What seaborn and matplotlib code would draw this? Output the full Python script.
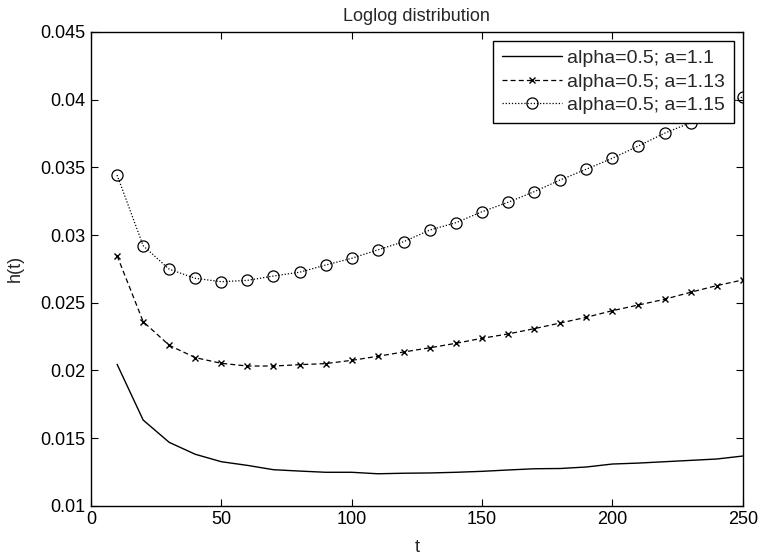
import numpy as np
import pandas as pd
import matplotlib
matplotlib.use("Agg")
import matplotlib.pyplot as plt
import seaborn as sns

t = [10, 20, 30, 40, 50, 60, 70, 80, 90, 100, 110, 120, 130, 140, 150, 160, 170, 180, 190, 200, 210, 220, 230, 240, 250]

h_a110 = [0.02045, 0.01633, 0.01468, 0.01380, 0.01325, 0.01298, 0.01266, 0.01256, 0.01247, 0.01247, 0.01236,
          0.01240, 0.01242, 0.01247, 0.01254, 0.01264, 0.01273, 0.01275, 0.01286, 0.01308, 0.01315, 0.01325,
          0.01335, 0.01345, 0.01367]
h_a113 = [0.02847, 0.02360, 0.02185, 0.02094, 0.02052, 0.02032, 0.02032, 0.02042, 0.02050, 0.02074, 0.02104,
          0.02136, 0.02167, 0.02200, 0.02237, 0.02269, 0.02308, 0.02350, 0.02392, 0.02441, 0.02483, 0.02525,
          0.02577, 0.02626, 0.02668]
h_a115 = [0.03443, 0.02921, 0.02747, 0.02680, 0.02655, 0.02665, 0.02697, 0.02725, 0.02778, 0.02828, 0.02890,
          0.02951, 0.03037, 0.03091, 0.03172, 0.03242, 0.03320, 0.03407, 0.03486, 0.03567, 0.03658, 0.03752,
          0.03830, 0.03920, 0.04022]

labels = ["alpha=0.5; a=1.1", "alpha=0.5; a=1.13", "alpha=0.5; a=1.15"]
title = "Loglog distribution"
xticks = [0, 50, 100, 150, 200, 250]
yticks = [0.01, 0.015, 0.02, 0.025, 0.03, 0.035, 0.04, 0.045]
ytick_labels = ["0.01", "0.015", "0.02", "0.025", "0.03", "0.035", "0.04", "0.045"]

sns.set_style("white")
plt.rcParams["font.family"] = ["Liberation Sans", "DejaVu Sans"]

fig = plt.figure(figsize=(7.61, 5.58), dpi=100)
ax = fig.add_axes([0.1196, 0.0937, 0.976 - 0.1196, 0.9427 - 0.0937])

sns.lineplot(x=t, y=h_a110, ax=ax, color="black", linestyle="-", linewidth=1.0, label=labels[0])
sns.lineplot(x=t, y=h_a113, ax=ax, color="black", linestyle=(0, (4, 2.5)), linewidth=0.9,
             marker="x", markersize=5, markeredgewidth=1.0, markeredgecolor="black", label=labels[1])
sns.lineplot(x=t, y=h_a115, ax=ax, color="black", linestyle=(0, (1, 1.5)), linewidth=0.9,
             marker="o", markersize=8, markerfacecolor="none", markeredgecolor="black",
             markeredgewidth=0.9, label=labels[2])

ax.set_xlim(0, 250)
ax.set_ylim(0.01, 0.045)
ax.set_xticks(xticks)
ax.set_xticklabels([str(v) for v in xticks])
ax.set_yticks(yticks)
ax.set_yticklabels(ytick_labels)
ax.tick_params(direction="in", length=5, width=0.8, labelsize=13, colors="black",
               top=True, right=True, bottom=True, left=True, pad=4)
for s in ax.spines.values():
    s.set_visible(True)
    s.set_color("black")
    s.set_linewidth(1.0)

ax.set_xlabel("t", fontsize=13, labelpad=8)
ax.set_ylabel("h(t)", fontsize=13, labelpad=12)
ax.set_title(title, fontsize=13, pad=8)

leg = ax.legend(loc="upper right", fontsize=14, frameon=True, fancybox=False, framealpha=1,
                edgecolor="black", handlelength=3.1, handletextpad=0.25, borderpad=0.45,
                labelspacing=0.3, numpoints=1, borderaxespad=0.45)
leg.get_frame().set_linewidth(1.0)

fig.savefig("out.png", dpi=100)
